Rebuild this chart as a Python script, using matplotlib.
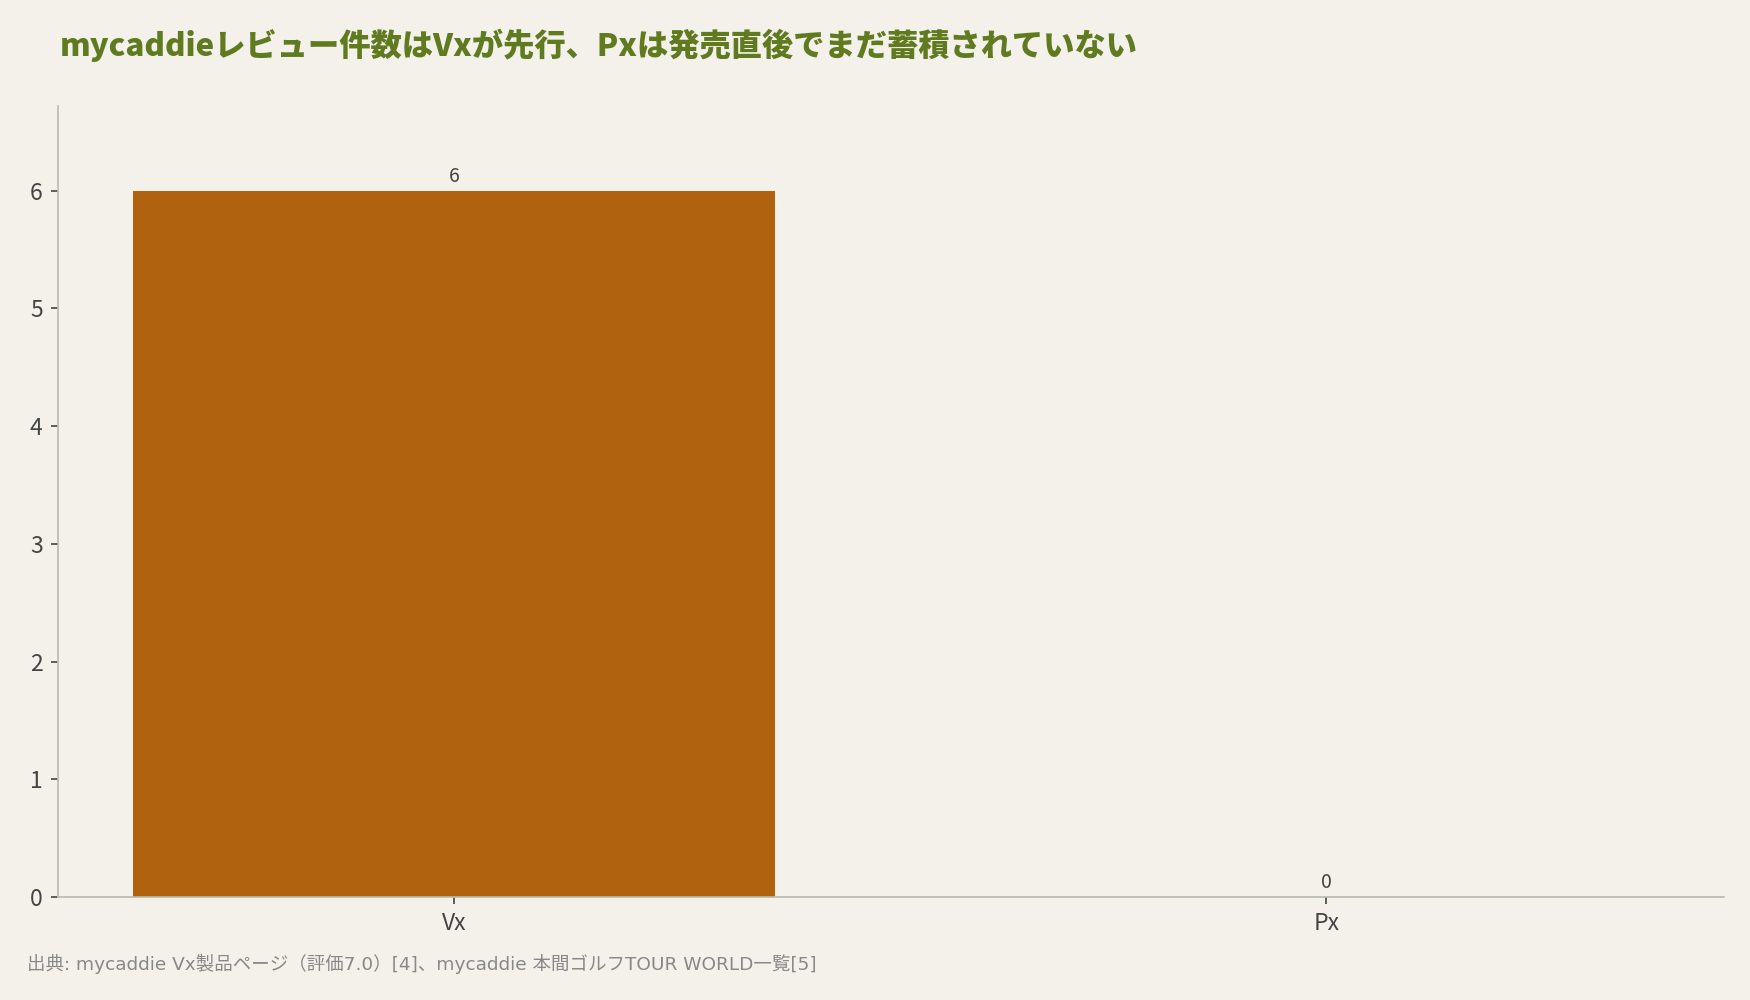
import matplotlib
matplotlib.use("Agg")
import matplotlib.pyplot as plt

categories = ["Vx", "Px"]
review_counts = [6, 0]

title = "mycaddieレビュー件数はVxが先行、Pxは発売直後でまだ蓄積されていない"
source = "出典: mycaddie Vx製品ページ（評価7.0）[4]、mycaddie 本間ゴルフTOUR WORLD一覧[5]"

plt.rcParams['font.family'] = ['Noto Sans CJK JP', 'DejaVu Sans']

bg = "#f3f1ea"
fig = plt.figure(figsize=(17.5, 10), dpi=100, facecolor=bg)
ax = fig.add_axes([0.0331, 0.103, 0.9520, 0.791], facecolor=bg)

x = list(range(len(categories)))
bars = ax.bar(x, review_counts, width=0.736, color="#b0620f", zorder=2)

for xi, v in zip(x, review_counts):
    ax.annotate(f"{v}", (xi, v), xytext=(0, 3), textcoords="offset points",
                ha="center", va="bottom", fontsize=14, color="#444444")

ax.set_xlim(-0.454, 1.456)
ax.set_ylim(0, 6.72)
ax.set_xticks(x)
ax.set_xticklabels(categories)
ax.set_yticks(range(0, 7))

for s in ["top", "right"]:
    ax.spines[s].set_visible(False)
for s in ["left", "bottom"]:
    ax.spines[s].set_color("#b8bcaa")
    ax.spines[s].set_linewidth(1.2)

ax.tick_params(axis="both", colors="#444444", labelsize=16.5, length=5, width=1.2)
ax.tick_params(axis="x", pad=6)
ax.tick_params(axis="y", pad=6)

fig.text(0.034, 0.955, title, fontsize=22.5, fontweight=900, color="#5f7a1f",
         ha="left", va="center")
fig.text(0.0154, 0.036, source, fontsize=13.3, color="#888888", ha="left", va="center",
         family=['DejaVu Sans', 'Noto Sans CJK JP'])

fig.savefig("out.png", dpi=100, facecolor=bg)
